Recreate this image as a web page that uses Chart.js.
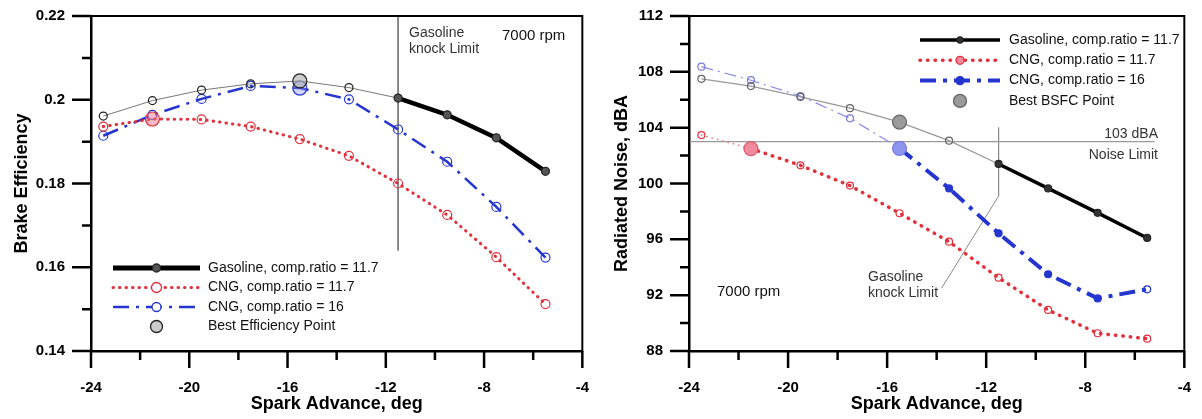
<!DOCTYPE html>
<html>
<head>
<meta charset="utf-8">
<title>Brake efficiency and radiated noise vs spark advance</title>
<script src="https://cdn.jsdelivr.net/npm/chart.js@4.4.0/dist/chart.umd.min.js"></script>
<style>
  body { margin: 0; background: #fff; }
  #wrap { position: relative; width: 1202px; height: 419px; }
  .box { position: absolute; top: 0; height: 419px; }
</style>
</head>
<body>
<div id="wrap">
  <div class="box" style="left:0;width:600px"><canvas id="effChart"></canvas></div>
  <div class="box" style="left:600px;width:602px"><canvas id="noiseChart"></canvas></div>
</div>
<script>
// data (spark advance in deg)
const sparkAdvance = [-23.5, -21.5, -19.5, -17.5, -15.5, -13.5, -11.5, -9.5, -7.5, -5.5];

const effGasoline = [0.1961, 0.1998, 0.2023, 0.2038, 0.2045, 0.2029, 0.2004, 0.1964, 0.1909, 0.1829];
const effCng117 = [0.1936, 0.1954, 0.1953, 0.1936, 0.1906, 0.1866, 0.1800, 0.1725, 0.1624, 0.1512];
const effCng16 = [0.1914, 0.1964, 0.2002, 0.2033, 0.2028, 0.2001, 0.1929, 0.1852, 0.1744, 0.1623];

const noiseGasoline = [107.5, 106.98, 106.2, 105.4, 104.4, 103.07, 101.4, 99.65, 97.9, 96.1];
const noiseCng117 = [103.47, 102.5, 101.3, 99.85, 97.87, 95.83, 93.25, 90.94, 89.27, 88.88];
const noiseCng16 = [108.37, 107.4, 106.27, 104.67, 102.52, 99.65, 96.43, 93.5, 91.77, 92.42];

// index of the "best" point on each curve
const bestEffIdx = [4, 1, 4];   // gasoline, cng 11.7, cng 16
const bestBsfcIdx = [4, 1, 4];

const knockAdvance = -11.5;
const effKnockLineY = [0.22, 0.164];
const noiseLimit = 103;
const noiseLimitX = [-24, -5.2];
const noiseKnockX = [-11.5, -11.5, -13.8];
const noiseKnockY = [104, 99.1, 92.5];

const seriesLabels = ["Gasoline, comp.ratio = 11.7", "CNG, comp.ratio = 11.7", "CNG, comp.ratio = 16"];

const RED = "#e2303c";
const BLUE = "#2536d0";

Chart.defaults.font.family = "'Liberation Sans', Arial, sans-serif";
Chart.defaults.color = "#000";

function toPoints(xs, ys) {
  return xs.map((x, i) => ({ x: x, y: ys[i] }));
}

// box + major/minor tick marks (Chart.js has no minor ticks)
const frameTicks = {
  id: "frameTicks",
  afterDraw(chart) {
    const { ctx, chartArea: a } = chart;
    const xs = chart.scales.x, ys = chart.scales.y;
    ctx.save();
    ctx.strokeStyle = "#000";
    ctx.lineWidth = 2;
    ctx.strokeRect(a.left, a.top, a.right - a.left, a.bottom - a.top);
    ctx.lineWidth = 2.5;
    ctx.beginPath();
    const xv = xs.ticks.map(t => t.value);
    xv.forEach((v, i) => {
      const px = xs.getPixelForValue(v);
      ctx.moveTo(px, a.bottom); ctx.lineTo(px, a.bottom + 17);
      if (i < xv.length - 1) {
        const m = xs.getPixelForValue((v + xv[i + 1]) / 2);
        ctx.moveTo(m, a.bottom); ctx.lineTo(m, a.bottom + 9);
      }
    });
    const yv = ys.ticks.map(t => t.value);
    yv.forEach((v, i) => {
      const py = ys.getPixelForValue(v);
      ctx.moveTo(a.left - 19, py); ctx.lineTo(a.left, py);
      if (i < yv.length - 1) {
        const m = ys.getPixelForValue((v + yv[i + 1]) / 2);
        ctx.moveTo(a.left - 9, m); ctx.lineTo(a.left, m);
      }
    });
    ctx.stroke();
    ctx.restore();
  }
};

// free text + legend drawn inside the plot
const notes = {
  id: "notes",
  afterDraw(chart, args, opts) {
    const ctx = chart.ctx;
    ctx.save();
    (opts.texts || []).forEach(t => {
      ctx.font = (t.size || 14) + "px 'Liberation Sans', Arial, sans-serif";
      ctx.fillStyle = t.color || "#333";
      ctx.textAlign = t.align || "left";
      ctx.textBaseline = "middle";
      ctx.fillText(t.text, t.x, t.y);
    });
    const lg = opts.legend;
    if (lg) {
      lg.rows.forEach((r, i) => {
        const y = lg.y + i * lg.dy;
        if (r.line) {
          ctx.beginPath();
          ctx.strokeStyle = r.color;
          ctx.lineWidth = r.width;
          ctx.lineCap = r.cap || "butt";
          ctx.setLineDash(r.dash || []);
          ctx.moveTo(lg.x0, y); ctx.lineTo(lg.x1, y);
          ctx.stroke();
          ctx.setLineDash([]);
        }
        const mx = (lg.x0 + lg.x1) / 2;
        ctx.beginPath();
        ctx.arc(mx, y, r.radius, 0, Math.PI * 2);
        ctx.fillStyle = r.fill;
        ctx.fill();
        ctx.lineWidth = 1.3;
        ctx.strokeStyle = r.stroke;
        ctx.stroke();
        ctx.font = "14px 'Liberation Sans', Arial, sans-serif";
        ctx.fillStyle = "#111";
        ctx.textAlign = "left";
        ctx.textBaseline = "middle";
        ctx.fillText(r.text, lg.textX, y);
      });
    }
    ctx.restore();
  }
};

function axes(yMin, yMax, yStep, yTitle, yWidth) {
  const tickFont = { size: 15, weight: "bold" };
  const titleFont = { size: 18, weight: "bold" };
  return {
    x: {
      type: "linear", min: -24, max: -4,
      ticks: { stepSize: 4, font: tickFont, padding: 11 },
      grid: { display: false, drawTicks: true, tickLength: 17 },
      border: { display: true, color: "#000", width: 2.5 },
      title: { display: true, text: "Spark Advance, deg", font: titleFont, padding: { top: 0, bottom: 4 } },
      afterFit(s) { s.height = 68; }
    },
    y: {
      type: "linear", min: yMin, max: yMax,
      ticks: {
        stepSize: yStep, font: tickFont, padding: 7,
        // 0.2 rather than 0.20
        callback: v => String(parseFloat(v.toFixed(4)))
      },
      grid: { display: false, drawTicks: true, tickLength: 19 },
      border: { display: true, color: "#000", width: 2.5 },
      title: { display: true, text: yTitle, font: titleFont, padding: { top: 11, bottom: 0 } },
      afterFit(s) { s.width = yWidth; }
    }
  };
}

const afterKnock = c => c.p0.parsed.x >= knockAdvance - 0.01;

// ---------- brake efficiency ----------
new Chart(document.getElementById("effChart"), {
  type: "line",
  data: {
    datasets: [
      {
        label: seriesLabels[0],
        data: toPoints(sparkAdvance, effGasoline),
        borderColor: "#000",
        segment: {
          borderWidth: c => afterKnock(c) ? 4.5 : 1,
          borderColor: c => afterKnock(c) ? "#000" : "#777"
        },
        pointRadius: c => c.dataIndex === bestEffIdx[0] ? 7 : 4,
        pointBorderWidth: 1.2,
        pointBorderColor: "#222",
        pointBackgroundColor: c => c.dataIndex === bestEffIdx[0] ? "rgba(170,170,170,0.6)" :
          (sparkAdvance[c.dataIndex] >= knockAdvance ? "#555" : "rgba(255,255,255,0)"),
        order: 1
      },
      {
        label: seriesLabels[1],
        data: toPoints(sparkAdvance, effCng117),
        borderColor: RED, borderWidth: 3,
        borderDash: [0.5, 6], borderCapStyle: "round",
        pointRadius: c => c.dataIndex === bestEffIdx[1] ? 7 : 4.5,
        pointBorderWidth: 1.2,
        pointBorderColor: RED,
        pointBackgroundColor: c => c.dataIndex === bestEffIdx[1] ? "rgba(240,120,140,0.5)" : "rgba(255,255,255,0)",
        order: 2
      },
      {
        label: seriesLabels[2],
        data: toPoints(sparkAdvance, effCng16),
        borderColor: BLUE, borderWidth: 2.5,
        borderDash: [16, 7, 3, 7],
        pointRadius: c => c.dataIndex === bestEffIdx[2] ? 7 : 4.5,
        pointBorderWidth: 1.2,
        pointBorderColor: BLUE,
        pointBackgroundColor: c => c.dataIndex === bestEffIdx[2] ? "rgba(140,150,240,0.4)" : "rgba(255,255,255,0)",
        order: 3
      },
      {
        label: "knock limit",
        data: toPoints([knockAdvance, knockAdvance], effKnockLineY),
        borderColor: "#777", borderWidth: 1, pointRadius: 0, order: 4
      }
    ]
  },
  options: {
    responsive: true, maintainAspectRatio: false, animation: false,
    layout: { padding: { top: 15, right: 8, left: 0, bottom: 0 } },
    scales: axes(0.14, 0.22, 0.02, "Brake Efficiency", 91),
    plugins: {
      legend: { display: false },
      tooltip: { enabled: false },
      notes: {
        texts: [
          { text: "Gasoline", x: 409, y: 33 },
          { text: "knock Limit", x: 409, y: 49 },
          { text: "7000 rpm", x: 502, y: 36, size: 15, color: "#111" }
        ],
        legend: {
          x0: 113, x1: 200, textX: 208, y: 268, dy: 19.5,
          rows: [
            { text: seriesLabels[0], line: true, color: "#000", width: 5, radius: 4, fill: "#555", stroke: "#222" },
            { text: seriesLabels[1], line: true, color: RED, width: 3, dash: [0.5, 6], cap: "round", radius: 5, fill: "#fff", stroke: RED },
            { text: seriesLabels[2], line: true, color: BLUE, width: 2.5, dash: [16, 7, 3, 7], radius: 4.5, fill: "#fff", stroke: BLUE },
            { text: "Best Efficiency Point", line: false, radius: 6, fill: "rgba(170,170,170,0.6)", stroke: "#222" }
          ]
        }
      }
    }
  },
  plugins: [frameTicks, notes]
});

// ---------- radiated noise ----------
const afterBestRed = c => c.p0.parsed.x >= sparkAdvance[bestBsfcIdx[1]] - 0.01;
const afterBestBlue = c => c.p0.parsed.x >= sparkAdvance[bestBsfcIdx[2]] - 0.01;

new Chart(document.getElementById("noiseChart"), {
  type: "line",
  data: {
    datasets: [
      {
        label: seriesLabels[0],
        data: toPoints(sparkAdvance, noiseGasoline),
        borderColor: "#000",
        segment: {
          borderWidth: c => afterKnock(c) ? 3.5 : 1.2,
          borderColor: c => afterKnock(c) ? "#000" : "#999"
        },
        pointRadius: c => c.dataIndex === bestBsfcIdx[0] ? 7 : 3.5,
        pointBorderWidth: 1.2,
        pointBorderColor: c => sparkAdvance[c.dataIndex] >= knockAdvance ? "#222" : "#666",
        pointBackgroundColor: c => c.dataIndex === bestBsfcIdx[0] ? "#9a9a9a" :
          (sparkAdvance[c.dataIndex] >= knockAdvance ? "#333" : "rgba(255,255,255,0)"),
        order: 1
      },
      {
        label: seriesLabels[1],
        data: toPoints(sparkAdvance, noiseCng117),
        borderColor: RED, borderCapStyle: "round",
        segment: {
          borderWidth: c => afterBestRed(c) ? 3.5 : 1.5,
          borderColor: c => afterBestRed(c) ? RED : "#e8808e",
          borderDash: c => afterBestRed(c) ? [0.5, 7] : [0.5, 5]
        },
        pointRadius: c => c.dataIndex === bestBsfcIdx[1] ? 7 : 3.5,
        pointBorderWidth: 1.2,
        pointBorderColor: c => c.dataIndex === bestBsfcIdx[1] ? "#d85a6c" : RED,
        pointBackgroundColor: c => c.dataIndex === bestBsfcIdx[1] ? "#f08a9c" : "rgba(255,255,255,0)",
        order: 2
      },
      {
        label: seriesLabels[2],
        data: toPoints(sparkAdvance, noiseCng16),
        borderColor: BLUE,
        segment: {
          borderWidth: c => afterBestBlue(c) ? 4 : 1.2,
          borderColor: c => afterBestBlue(c) ? BLUE : "#8a8ae6",
          borderDash: c => afterBestBlue(c) ? [16, 7, 4, 7] : [12, 5, 2, 5]
        },
        pointRadius: c => c.dataIndex === bestBsfcIdx[2] ? 7 : 3.5,
        pointBorderWidth: 1.2,
        pointBorderColor: c => sparkAdvance[c.dataIndex] > sparkAdvance[bestBsfcIdx[2]] ? BLUE : "#7a7ae0",
        pointBackgroundColor: c => c.dataIndex === bestBsfcIdx[2] ? "#8c96ee" :
          (sparkAdvance[c.dataIndex] > sparkAdvance[bestBsfcIdx[2]] && c.dataIndex < sparkAdvance.length - 1 ? BLUE : "rgba(255,255,255,0)"),
        order: 3
      },
      {
        label: "noise limit",
        data: toPoints(noiseLimitX, [noiseLimit, noiseLimit]),
        borderColor: "#9a9a9a", borderWidth: 1.2, pointRadius: 0, order: 4
      },
      {
        label: "knock limit",
        data: toPoints(noiseKnockX, noiseKnockY),
        borderColor: "#8a8a8a", borderWidth: 1, pointRadius: 0, order: 5
      }
    ]
  },
  options: {
    responsive: true, maintainAspectRatio: false, animation: false,
    layout: { padding: { top: 16, right: 10, left: 0, bottom: 0 } },
    scales: axes(88, 112, 4, "Radiated Noise, dBA", 89),
    plugins: {
      legend: { display: false },
      tooltip: { enabled: false },
      notes: {
        texts: [
          { text: "103 dBA", x: 558, y: 134, align: "right" },
          { text: "Noise Limit", x: 558, y: 155, align: "right" },
          { text: "Gasoline", x: 268, y: 277 },
          { text: "knock Limit", x: 268, y: 293 },
          { text: "7000 rpm", x: 117, y: 292, size: 15, color: "#111" }
        ],
        legend: {
          x0: 320, x1: 400, textX: 409, y: 40, dy: 20.3,
          rows: [
            { text: seriesLabels[0], line: true, color: "#000", width: 3.5, radius: 3, fill: "#333", stroke: "#222" },
            { text: seriesLabels[1], line: true, color: RED, width: 3.5, dash: [0.5, 7], cap: "round", radius: 4, fill: "#f08a9c", stroke: RED },
            { text: seriesLabels[2], line: true, color: BLUE, width: 4, dash: [16, 7, 4, 7], radius: 4, fill: BLUE, stroke: BLUE },
            { text: "Best BSFC Point", line: false, radius: 6.5, fill: "#9a9a9a", stroke: "#666" }
          ]
        }
      }
    }
  },
  plugins: [frameTicks, notes]
});
</script>
</body>
</html>
